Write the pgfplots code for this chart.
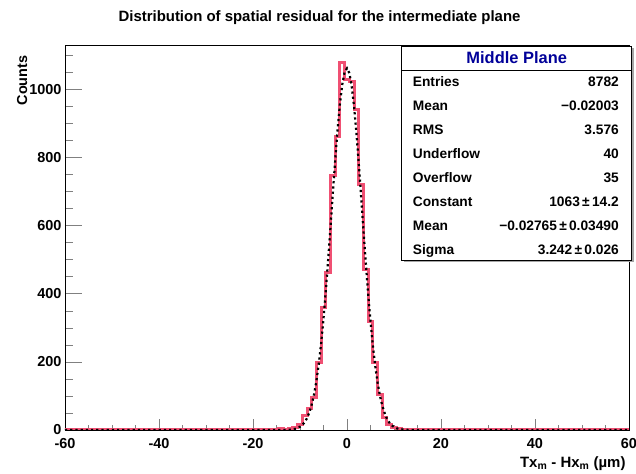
\documentclass[border=0pt]{standalone}
\usepackage{fontspec}
\setmainfont{Liberation Sans}
\usepackage{pgfplots}
\pgfplotsset{compat=1.18}
\definecolor{histpink}{RGB}{240,80,115}
\definecolor{statblue}{RGB}{0,0,153}
\begin{document}
\begin{tikzpicture}
\useasboundingbox (-65bp,-44bp) rectangle (571bp,430bp);
\begin{axis}[
  at={(0,0)}, anchor=south west,
  width=564bp, height=384.5bp, scale only axis,
  xmin=-60, xmax=60, ymin=0, ymax=1130,
  axis line style={line width=0.9bp},
  tick align=inside, xtick pos=left, ytick pos=left,
  xtick={-60,-40,-20,0,20,40,60}, xticklabels={-60,-40,-20,0,20,40,60},
  ytick={0,200,400,600,800,1000}, yticklabels={0,200,400,600,800,1000},
  minor xtick={-55,-50,-45,-35,-30,-25,-15,-10,-5,5,10,15,25,30,35,45,50,55},
  minor ytick={50,100,150,250,300,350,450,500,550,650,700,750,850,900,950,1050,1100},
  xtick style={line width=0.8bp, /pgfplots/major tick length=11bp, /pgfplots/minor tick length=5.5bp},
  ytick style={line width=0.8bp, /pgfplots/major tick length=17bp, /pgfplots/minor tick length=8.5bp},
  tick label style={font=\fontsize{14.5}{16}\selectfont\bfseries},
  xticklabel style={yshift=-5bp},
  clip=true,
]
\addplot[const plot mark left, color=histpink, line width=3bp] table {
x y
-60.5 0
-59.5 1
-58.5 0
-57.5 0
-56.5 1
-55.5 0
-54.5 0
-53.5 1
-52.5 0
-51.5 1
-50.5 0
-49.5 0
-48.5 1
-47.5 0
-46.5 0
-45.5 1
-44.5 0
-43.5 1
-42.5 0
-41.5 1
-40.5 0
-39.5 1
-38.5 0
-37.5 1
-36.5 0
-35.5 1
-34.5 1
-33.5 0
-32.5 1
-31.5 0
-30.5 1
-29.5 1
-28.5 0
-27.5 1
-26.5 2
-25.5 1
-24.5 1
-23.5 2
-22.5 1
-21.5 1
-20.5 2
-19.5 1
-18.5 2
-17.5 1
-16.5 2
-15.5 2
-14.5 3
-13.5 2
-12.5 3
-11.5 6
-10.5 15
-9.5 42
-8.5 62
-7.5 95
-6.5 197
-5.5 359
-4.5 462
-3.5 747
-2.5 862
-1.5 1081
-0.5 1030
0.5 1025
1.5 941
2.5 721
3.5 471
4.5 318
5.5 197
6.5 103
7.5 38
8.5 15
9.5 8
10.5 3
11.5 2
12.5 1
13.5 2
14.5 1
15.5 0
16.5 1
17.5 1
18.5 0
19.5 1
20.5 2
21.5 1
22.5 0
23.5 1
24.5 2
25.5 1
26.5 0
27.5 1
28.5 0
29.5 1
30.5 0
31.5 0
32.5 1
33.5 0
34.5 1
35.5 0
36.5 0
37.5 1
38.5 0
39.5 1
40.5 0
41.5 0
42.5 1
43.5 0
44.5 0
45.5 1
46.5 0
47.5 0
48.5 1
49.5 0
50.5 0
51.5 1
52.5 0
53.5 0
54.5 1
55.5 0
56.5 0
57.5 1
58.5 0
59.5 0
60.5 0
};
\addplot[black, line width=2.2bp, dash pattern=on 2.2bp off 3bp] table {
x y
-60 0
-16 0.02
-14 0.1
-13 0.4
-12 1.2
-11 3.5
-10.5 5.7
-10 9.3
-9.5 14.8
-9 23
-8.5 35
-8 52
-7.5 75
-7 105
-6.5 145
-6 195
-5.5 255
-5 327
-4.5 410
-4 502
-3.5 598
-3 699
-2.5 794
-2 884
-1.5 959
-1 1016
-0.5 1052
0 1063
0.5 1049
1 1011
1.5 951
2 874
2.5 784
3 687
3.5 587
4 491
4.5 400
5 319
5.5 248
6 189
6.5 140
7 101
7.5 72
8 50
8.5 33
9 22
9.5 14
10 8.9
10.5 5.4
11 3.3
12 1.1
13 0.35
14 0.1
16 0.02
60 0
};
\end{axis}
% title
\node[font=\fontsize{15}{17}\selectfont\bfseries] at (254.5bp,412bp) {Distribution of spatial residual for the intermediate plane};
% axis labels
\node[rotate=90, anchor=base east, font=\fontsize{14.5}{16}\selectfont\bfseries] at (-38bp,378bp) {Counts};
\node[anchor=base east, font=\fontsize{15}{17}\selectfont\bfseries] at (564bp,-37bp) {Tx\textsubscript{m} - Hx\textsubscript{m} (µm)};
% stats box
\fill[gray!70] (338.5bp,168.2bp) rectangle (568.5bp,382bp);
\draw[line width=0.8bp, fill=white] (336.7bp,170bp) rectangle (566.7bp,384bp);
\draw[line width=0.8bp] (336.7bp,359.3bp) -- (566.7bp,359.3bp);
\node[anchor=base, text=statblue, font=\fontsize{16.5}{18}\selectfont\bfseries] at (451.7bp,366.7bp) {Middle Plane};
\begin{scope}[every node/.style={font=\fontsize{13.8}{15}\selectfont\bfseries, inner sep=0pt}]
\node[anchor=base west] at (347.7bp,343.5bp) {Entries};
\node[anchor=base east] at (554bp,343.5bp) {8782};
\node[anchor=base west] at (347.7bp,319.5bp) {Mean};
\node[anchor=base east] at (554bp,319.5bp) {−0.02003};
\node[anchor=base west] at (347.7bp,295.5bp) {RMS};
\node[anchor=base east] at (554bp,295.5bp) {3.576};
\node[anchor=base west] at (347.7bp,271.5bp) {Underflow};
\node[anchor=base east] at (554bp,271.5bp) {40};
\node[anchor=base west] at (347.7bp,247.5bp) {Overflow};
\node[anchor=base east] at (554bp,247.5bp) {35};
\node[anchor=base west] at (347.7bp,223.5bp) {Constant};
\node[anchor=base east] at (554bp,223.5bp) {1063\,±\,14.2};
\node[anchor=base west] at (347.7bp,199.5bp) {Mean};
\node[anchor=base east] at (554bp,199.5bp) {−0.02765\,±\,0.03490};
\node[anchor=base west] at (347.7bp,175.5bp) {Sigma};
\node[anchor=base east] at (554bp,175.5bp) {3.242\,±\,0.026};
\end{scope}
\end{tikzpicture}
\end{document}
